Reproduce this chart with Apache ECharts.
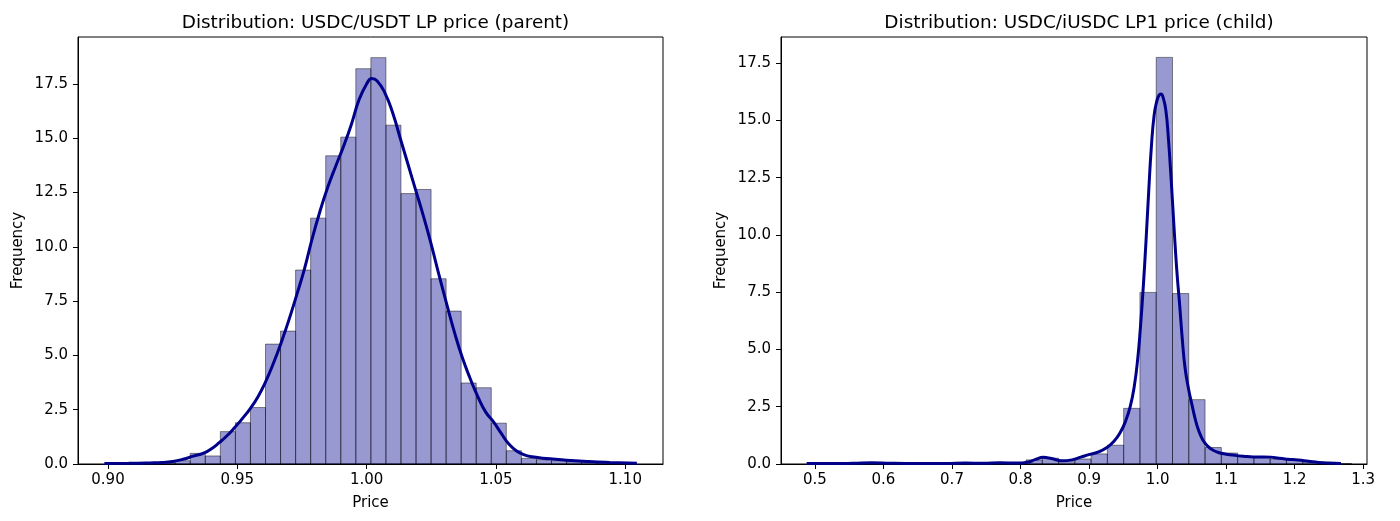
<!DOCTYPE html>
<html><head><meta charset="utf-8">
<script src="https://cdn.jsdelivr.net/npm/echarts@6/dist/echarts.min.js"></script>
<style>html,body{margin:0;padding:0;background:#fff}#c{width:1400px;height:521px}</style>
</head><body><div id="c"></div>
<script>
// ---------- text ----------
const leftTitle = 'Distribution: USDC/USDT LP price (parent)';
const rightTitle = 'Distribution: USDC/iUSDC LP1 price (child)';
const xName = 'Price';
const yName = 'Frequency';

// ---------- tick labels ----------
const leftXTicks = [0.90, 0.95, 1.00, 1.05, 1.10];
const rightXTicks = [0.5, 0.6, 0.7, 0.8, 0.9, 1.0, 1.1, 1.2, 1.3];
const yTicks = [0, 2.5, 5, 7.5, 10, 12.5, 15, 17.5];

// ---------- axis ranges ----------
const leftXRange = [0.8884, 1.1146];
const rightXRange = [0.4505, 1.3055];
const leftYMax = 19.66;
const rightYMax = 18.64;

// ---------- left histogram (parent) ----------
const leftBinStart = 0.9027;
const leftBinWidth = 0.00582;
const leftHeights = [0.03, 0.03, 0.05, 0.05, 0.15, 0.49, 0.37, 1.49, 1.90, 2.60,
  5.52, 6.12, 8.93, 11.32, 14.19, 15.05, 18.20, 18.71, 15.60, 12.45,
  12.64, 8.53, 7.04, 3.73, 3.51, 1.88, 0.61, 0.26, 0.20, 0.15,
  0.10, 0.07, 0.05, 0.03];

// ---------- left KDE ----------
const leftKdeX = [0.8986, 0.908, 0.916, 0.921, 0.925, 0.929, 0.933, 0.937, 0.940, 0.943,
  0.946, 0.949, 0.952, 0.955, 0.958, 0.961, 0.964, 0.967, 0.970, 0.973,
  0.976, 0.979, 0.982, 0.985, 0.988, 0.991, 0.994, 0.997, 1.000, 1.002,
  1.004, 1.007, 1.010, 1.013, 1.016, 1.019, 1.022, 1.025, 1.028, 1.031,
  1.034, 1.037, 1.040, 1.043, 1.046, 1.049, 1.052, 1.055, 1.058, 1.061,
  1.064, 1.068, 1.073, 1.079, 1.086, 1.094, 1.1045];
const leftKdeY = [0.02, 0.03, 0.05, 0.07, 0.12, 0.22, 0.36, 0.50, 0.70, 0.98,
  1.30, 1.68, 2.10, 2.55, 3.10, 3.80, 4.65, 5.60, 6.65, 7.80,
  9.00, 10.40, 11.65, 12.75, 13.70, 14.60, 15.60, 16.75, 17.50, 17.75,
  17.65, 17.10, 16.20, 15.00, 13.80, 12.60, 11.40, 10.10, 8.70, 7.35,
  6.05, 4.90, 3.95, 3.10, 2.40, 1.95, 1.42, 0.92, 0.60, 0.42,
  0.33, 0.27, 0.22, 0.16, 0.11, 0.07, 0.03];

// ---------- right histogram (child) ----------
const rightBinStart = 0.4992;
const rightBinWidth = 0.02375;
const rightHeights = [0.03, 0.02, 0.03, 0.05, 0.03, 0.02, 0.03, 0.02, 0.02, 0.04,
  0.03, 0.05, 0.03, 0.18, 0.25, 0.10, 0.22, 0.44, 0.82, 2.43,
  7.49, 17.75, 7.44, 2.81, 0.72, 0.48, 0.32, 0.28, 0.22, 0.16,
  0.10, 0.04, 0.02];

// ---------- right KDE ----------
const rightKdeX = [0.4879, 0.52, 0.555, 0.583, 0.61, 0.65, 0.69, 0.72, 0.745, 0.77,
  0.795, 0.81, 0.822, 0.833, 0.845, 0.86, 0.875, 0.888, 0.901, 0.914,
  0.926, 0.936, 0.945, 0.953, 0.960, 0.966, 0.971, 0.975, 0.979, 0.983,
  0.987, 0.991, 0.995, 0.9985, 1.002, 1.005, 1.008, 1.012, 1.016, 1.020,
  1.024, 1.028, 1.032, 1.036, 1.040, 1.045, 1.050, 1.055, 1.060, 1.066,
  1.073, 1.081, 1.090, 1.100, 1.112, 1.125, 1.140, 1.155, 1.165, 1.177,
  1.190, 1.205, 1.220, 1.235, 1.250, 1.2675];
const rightKdeY = [0.02, 0.02, 0.03, 0.05, 0.03, 0.02, 0.02, 0.04, 0.03, 0.05,
  0.04, 0.08, 0.20, 0.29, 0.24, 0.14, 0.18, 0.30, 0.42, 0.53,
  0.72, 0.98, 1.35, 1.85, 2.50, 3.40, 4.60, 6.00, 7.70, 9.70,
  11.90, 13.90, 15.25, 15.80, 16.10, 16.15, 16.00, 15.45, 14.10, 12.30,
  10.30, 8.45, 7.00, 5.45, 4.20, 3.30, 2.60, 1.95, 1.45, 1.05,
  0.78, 0.60, 0.49, 0.43, 0.38, 0.34, 0.31, 0.31, 0.30, 0.25,
  0.21, 0.17, 0.12, 0.07, 0.04, 0.02];

// ---------- styles ----------
const FONT = 'DejaVu Sans';
const BAR_FILL = 'rgba(0,0,139,0.4)';
const BAR_EDGE = 'rgba(0,0,0,0.45)';
const KDE_COLOR = '#00008b';

function histSeries(idx, start, width, heights) {
  const data = heights.map((h, i) => [start + i * width, start + (i + 1) * width, h]);
  return {
    type: 'custom', xAxisIndex: idx, yAxisIndex: idx, z: 2,
    data: data, encode: { x: [0, 1], y: 2 },
    renderItem: function (params, api) {
      const p0 = api.coord([api.value(0), api.value(2)]);
      const p1 = api.coord([api.value(1), 0]);
      return {
        type: 'rect',
        shape: { x: p0[0], y: p0[1], width: p1[0] - p0[0], height: p1[1] - p0[1] },
        style: { fill: BAR_FILL, stroke: BAR_EDGE, lineWidth: 1 }
      };
    }
  };
}
function kdeSeries(idx, xs, ys) {
  return {
    type: 'line', xAxisIndex: idx, yAxisIndex: idx, z: 3,
    data: xs.map((x, i) => [x, ys[i]]),
    showSymbol: false, smooth: 0.5,
    lineStyle: { color: KDE_COLOR, width: 3 }
  };
}
function xAxis(idx, range, ticks, dec) {
  return {
    type: 'value', gridIndex: idx, min: range[0], max: range[1],
    name: xName, nameLocation: 'middle', nameGap: 32,
    nameTextStyle: { fontFamily: FONT, fontSize: 15, color: '#000' },
    axisLine: { show: true, lineStyle: { color: '#000', width: 1 } },
    axisTick: { show: true, length: 5, inside: false, customValues: ticks, lineStyle: { color: '#000', width: 1 } },
    axisLabel: { customValues: ticks, margin: 9, fontFamily: FONT, fontSize: 15, color: '#000',
      formatter: v => Number(v).toFixed(dec) },
    splitLine: { show: false }
  };
}
function yAxis(idx, max) {
  return {
    type: 'value', gridIndex: idx, min: 0, max: max,
    name: yName, nameLocation: 'middle', nameGap: 52, nameRotate: 90,
    nameTextStyle: { fontFamily: FONT, fontSize: 15, color: '#000' },
    axisLine: { show: true, lineStyle: { color: '#000', width: 1 } },
    axisTick: { show: true, length: 5, inside: false, customValues: yTicks, lineStyle: { color: '#000', width: 1 } },
    axisLabel: { customValues: yTicks, margin: 10, fontFamily: FONT, fontSize: 15, color: '#000',
      formatter: v => Number(v).toFixed(1) },
    splitLine: { show: false }
  };
}

const chart = echarts.init(document.getElementById('c'), null, { renderer: 'canvas' });
chart.setOption({
  backgroundColor: '#fff',
  animation: false,
  title: [
    { text: leftTitle, left: 370.5, top: 9, textAlign: 'center',
      textStyle: { fontFamily: FONT, fontSize: 18.4, fontWeight: 'normal', color: '#000' } },
    { text: rightTitle, left: 1074, top: 9, textAlign: 'center',
      textStyle: { fontFamily: FONT, fontSize: 18.4, fontWeight: 'normal', color: '#000' } }
  ],
  grid: [
    { left: 78, top: 37, width: 585, height: 427, show: true, borderColor: '#000', borderWidth: 1, backgroundColor: 'transparent' },
    { left: 781, top: 37, width: 586, height: 427, show: true, borderColor: '#000', borderWidth: 1, backgroundColor: 'transparent' }
  ],
  xAxis: [xAxis(0, leftXRange, leftXTicks, 2), xAxis(1, rightXRange, rightXTicks, 1)],
  yAxis: [yAxis(0, leftYMax), yAxis(1, rightYMax)],
  series: [
    histSeries(0, leftBinStart, leftBinWidth, leftHeights),
    kdeSeries(0, leftKdeX, leftKdeY),
    histSeries(1, rightBinStart, rightBinWidth, rightHeights),
    kdeSeries(1, rightKdeX, rightKdeY)
  ]
});
</script></body></html>
